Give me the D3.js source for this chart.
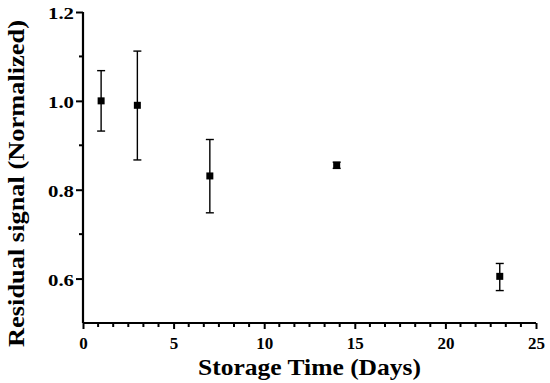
<!DOCTYPE html>
<html><head><meta charset="utf-8">
<script src="https://cdn.jsdelivr.net/npm/d3@7"></script>
<style>body{margin:0;background:#fff}svg{display:block}</style>
</head><body>
<script>
const days = [1, 3, 7, 14, 23];
const signal = [1.0, 0.99, 0.831, 0.855, 0.605];
const errUpper = [1.068, 1.112, 0.913, 0.862, 0.634];
const errLower = [0.932, 0.867, 0.748, 0.848, 0.573];
const xTicks = [0, 5, 10, 15, 20, 25];
const yTicks = [0.6, 0.8, 1.0, 1.2];

const W = 550, H = 383;
const svg = d3.select("body").append("svg").attr("width", W).attr("height", H);
const x = d3.scaleLinear().domain([0, 25]).range([83, 536]);
const y = d3.scaleLinear().domain([0.5, 1.2]).range([323, 12]);
const font = "'Liberation Serif','Times New Roman',serif";

const xMinor = d3.range(0, 25.0001, 5/6).filter(v => Math.abs(v/5 - Math.round(v/5)) > 1e-6);
const yMinor = [0.7, 0.9, 1.1];

const gx = svg.append("g").attr("transform", `translate(0,${y(0.5)})`)
  .call(d3.axisBottom(x).tickValues(xTicks).tickFormat(d3.format("d")).tickSize(6).tickPadding(8));
gx.append("g").selectAll("line").data(xMinor).join("line")
  .attr("x1", d => x(d)).attr("x2", d => x(d)).attr("y1", 0).attr("y2", 4)
  .attr("stroke", "#000").attr("stroke-width", 2);

const gy = svg.append("g").attr("transform", `translate(${x(0)},0)`)
  .call(d3.axisLeft(y).tickValues(yTicks).tickFormat(d3.format(".1f")).tickSize(7).tickPadding(2));
gy.append("g").selectAll("line").data(yMinor).join("line")
  .attr("x1", 0).attr("x2", -4).attr("y1", d => y(d)).attr("y2", d => y(d))
  .attr("stroke", "#000").attr("stroke-width", 2);

[gx, gy].forEach(g => {
  g.select(".domain").attr("stroke", "#000").attr("stroke-width", 2.2);
  g.selectAll(".tick line").attr("stroke", "#000").attr("stroke-width", 2);
  g.selectAll("text").attr("font-family", font).attr("font-weight", "bold")
    .attr("font-size", 17).attr("fill", "#000");
});
gy.selectAll(".tick text").attr("textLength", 26).attr("lengthAdjust", "spacingAndGlyphs").attr("dy", "0.38em");
gx.select(".domain").attr("d", `M${x(0)},0H${x(25)}`);
gy.select(".domain").attr("d", `M0,${y(1.2)}V${y(0.5)}`);

const eb = svg.append("g").attr("stroke", "#000").attr("stroke-width", 1.4);
days.forEach((d, i) => {
  const cx = x(d);
  eb.append("line").attr("x1", cx).attr("x2", cx).attr("y1", y(errUpper[i])).attr("y2", y(errLower[i]));
  [errUpper[i], errLower[i]].forEach(v => {
    eb.append("line").attr("x1", cx - 4).attr("x2", cx + 4).attr("y1", y(v)).attr("y2", y(v));
  });
});
svg.append("g").selectAll("rect").data(days).join("rect")
  .attr("x", d => x(d) - 3.5).attr("y", (d, i) => y(signal[i]) - 3.5)
  .attr("width", 7).attr("height", 7).attr("fill", "#000");

svg.append("text").attr("x", 309.5).attr("y", 374.5).attr("text-anchor", "middle")
  .attr("font-family", font).attr("font-weight", "bold").attr("font-size", 24)
  .attr("textLength", 223).attr("lengthAdjust", "spacingAndGlyphs")
  .text("Storage Time (Days)");
svg.append("text").attr("transform", `translate(23.5,183.5) rotate(-90)`).attr("text-anchor", "middle")
  .attr("font-family", font).attr("font-weight", "bold").attr("font-size", 24)
  .attr("textLength", 327).attr("lengthAdjust", "spacingAndGlyphs")
  .text("Residual signal (Normalized)");
</script>
</body></html>
